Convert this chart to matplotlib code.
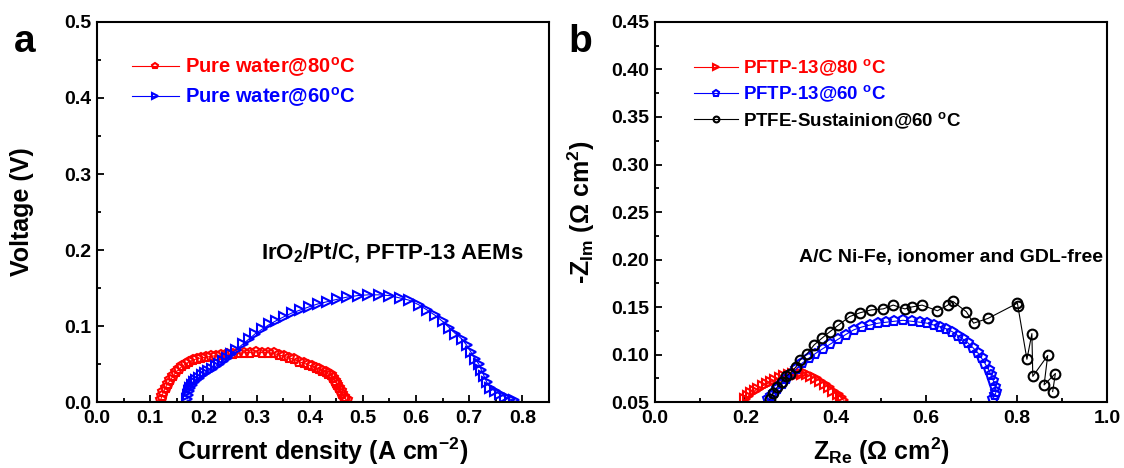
import matplotlib
matplotlib.use("Agg")
import matplotlib.pyplot as plt
from matplotlib.ticker import MultipleLocator

plt.rcParams['font.family'] = ['Liberation Sans', 'DejaVu Sans']
plt.rcParams['font.weight'] = 'bold'
plt.rcParams['axes.labelweight'] = 'bold'
plt.rcParams['mathtext.fontset'] = 'custom'
plt.rcParams['mathtext.rm'] = 'Liberation Sans:bold'
plt.rcParams['mathtext.it'] = 'Liberation Sans:bold'
plt.rcParams['mathtext.bf'] = 'Liberation Sans:bold'

# ---- panel a: polarization-like curves ----
a80_j = [0.120, 0.122, 0.125, 0.129, 0.133, 0.138, 0.143, 0.148, 0.154, 0.160,
         0.167, 0.173, 0.180, 0.188, 0.196, 0.205, 0.214, 0.224, 0.234, 0.244,
         0.255, 0.266, 0.277, 0.288, 0.299, 0.310, 0.321, 0.332, 0.342, 0.352,
         0.362, 0.371, 0.380, 0.389, 0.397, 0.405, 0.412, 0.418, 0.424, 0.430,
         0.435, 0.440, 0.444, 0.447, 0.450, 0.452, 0.455, 0.458, 0.461, 0.464,
         0.467, 0.470]
a80_v = [0.003, 0.008, 0.013, 0.019, 0.024, 0.029, 0.034, 0.039, 0.043, 0.047,
         0.050, 0.053, 0.055, 0.057, 0.058, 0.059, 0.060, 0.061, 0.062, 0.063,
         0.063, 0.064, 0.065, 0.065, 0.066, 0.065, 0.065, 0.064, 0.062, 0.060,
         0.058, 0.056, 0.053, 0.051, 0.049, 0.047, 0.045, 0.043, 0.041, 0.039,
         0.037, 0.035, 0.032, 0.028, 0.025, 0.022, 0.018, 0.014, 0.011, 0.007,
         0.004, 0.002]

a60_j = [0.170, 0.171, 0.173, 0.175, 0.178, 0.182, 0.186, 0.191, 0.197, 0.203,
         0.209, 0.216, 0.223, 0.230, 0.237, 0.244, 0.252, 0.262, 0.274, 0.286,
         0.298, 0.311, 0.324, 0.337, 0.351, 0.366, 0.382, 0.398, 0.415, 0.433,
         0.451, 0.470, 0.490, 0.510, 0.530, 0.550, 0.569, 0.587, 0.605, 0.621,
         0.636, 0.650, 0.662, 0.674, 0.686, 0.695, 0.703, 0.711, 0.718, 0.723,
         0.728, 0.733, 0.740, 0.749, 0.758, 0.767, 0.776, 0.784]
a60_v = [0.004, 0.009, 0.014, 0.018, 0.022, 0.026, 0.029, 0.032, 0.035, 0.038,
         0.041, 0.044, 0.047, 0.050, 0.054, 0.058, 0.063, 0.069, 0.076, 0.083,
         0.090, 0.096, 0.102, 0.107, 0.112, 0.117, 0.121, 0.125, 0.129, 0.132,
         0.135, 0.138, 0.140, 0.141, 0.141, 0.140, 0.137, 0.134, 0.128, 0.121,
         0.114, 0.106, 0.098, 0.090, 0.083, 0.075, 0.066, 0.057, 0.050, 0.042,
         0.034, 0.026, 0.019, 0.014, 0.010, 0.007, 0.004, 0.002]

# ---- panel b: Nyquist plots ----
b80_re = [0.200, 0.206, 0.213, 0.221, 0.229, 0.238, 0.247, 0.256, 0.266, 0.276,
          0.286, 0.296, 0.306, 0.316, 0.326, 0.336, 0.346, 0.356, 0.366, 0.376,
          0.386, 0.395, 0.404, 0.411, 0.417]
b80_im = [0.053, 0.056, 0.059, 0.062, 0.064, 0.067, 0.069, 0.071, 0.073, 0.075,
          0.077, 0.078, 0.079, 0.080, 0.080, 0.079, 0.077, 0.075, 0.072, 0.069,
          0.066, 0.062, 0.058, 0.055, 0.052]

b60_re = [0.250, 0.256, 0.263, 0.271, 0.280, 0.290, 0.301, 0.313, 0.326, 0.340,
          0.355, 0.371, 0.388, 0.405, 0.422, 0.440, 0.458, 0.476, 0.494, 0.512,
          0.530, 0.549, 0.568, 0.586, 0.602, 0.617, 0.631, 0.645, 0.658, 0.670,
          0.682, 0.693, 0.704, 0.714, 0.723, 0.731, 0.738, 0.744, 0.749, 0.753,
          0.755, 0.752, 0.747]
b60_im = [0.053, 0.056, 0.060, 0.064, 0.069, 0.074, 0.079, 0.085, 0.091, 0.096,
          0.101, 0.106, 0.111, 0.116, 0.121, 0.126, 0.129, 0.131, 0.133, 0.134,
          0.135, 0.136, 0.135, 0.134, 0.133, 0.131, 0.129, 0.127, 0.124, 0.120,
          0.116, 0.112, 0.107, 0.102, 0.096, 0.090, 0.084, 0.078, 0.072, 0.066,
          0.061, 0.057, 0.053]

sus_re = [0.254, 0.262, 0.271, 0.280, 0.290, 0.299, 0.312, 0.321, 0.337, 0.352,
          0.369, 0.387, 0.406, 0.431, 0.454, 0.479, 0.505, 0.527, 0.553, 0.568,
          0.591, 0.625, 0.648, 0.659, 0.689, 0.705, 0.737, 0.802, 0.803, 0.823,
          0.834, 0.836, 0.869, 0.861, 0.886, 0.880]
sus_im = [0.053, 0.060, 0.066, 0.071, 0.077, 0.080, 0.087, 0.094, 0.101, 0.110,
          0.117, 0.124, 0.131, 0.140, 0.144, 0.147, 0.148, 0.152, 0.148, 0.150,
          0.152, 0.146, 0.152, 0.156, 0.145, 0.133, 0.138, 0.154, 0.151, 0.095,
          0.122, 0.077, 0.099, 0.068, 0.080, 0.061]

fig = plt.figure(figsize=(11.24, 4.68), dpi=100)
ax1 = fig.add_axes([0.0863, 0.141, 0.4021, 0.812])
ax2 = fig.add_axes([0.5827, 0.141, 0.4021, 0.812])

mk = dict(mfc='none', mew=1.5, lw=0.8)
ax1.plot(a80_j, a80_v, color='red', marker='p', ms=7, label='Pure water@80$^\\mathrm{o}$C', **mk)
ax1.plot(a60_j, a60_v, color='blue', marker='>', ms=7, label='Pure water@60$^\\mathrm{o}$C', **mk)

ax2.plot(b80_re, b80_im, color='red', marker='>', ms=7, label='PFTP-13@80 $^\\mathrm{o}$C', **mk)
ax2.plot(b60_re, b60_im, color='blue', marker='p', ms=7.5, label='PFTP-13@60 $^\\mathrm{o}$C', **mk)
ax2.plot(sus_re, sus_im, color='black', marker='o', ms=7, label='PTFE-Sustainion@60 $^\\mathrm{o}$C', **mk)

ax1.set_xlim(0, 0.85)
ax1.set_ylim(0, 0.5)
ax1.xaxis.set_major_locator(MultipleLocator(0.1))
ax1.xaxis.set_minor_locator(MultipleLocator(0.05))
ax1.yaxis.set_major_locator(MultipleLocator(0.1))
ax1.yaxis.set_minor_locator(MultipleLocator(0.05))
ax1.set_xlabel('Current density (A cm$^{-2}$)', fontsize=18)
ax1.set_ylabel('Voltage (V)', fontsize=18)

ax2.set_xlim(0, 1.0)
ax2.set_ylim(0.05, 0.45)
ax2.xaxis.set_major_locator(MultipleLocator(0.2))
ax2.xaxis.set_minor_locator(MultipleLocator(0.1))
ax2.yaxis.set_major_locator(MultipleLocator(0.05))
ax2.yaxis.set_minor_locator(MultipleLocator(0.025))
ax2.set_xlabel('Z$_\\mathrm{Re}$ (\u03a9 cm$^2$)', fontsize=18)
ax2.set_ylabel('-Z$_\\mathrm{Im}$ (\u03a9 cm$^2$)', fontsize=18)

for ax in (ax1, ax2):
    for s in ax.spines.values():
        s.set_linewidth(1.5)
    ax.tick_params(which='both', direction='in', labelsize=14, width=1.3)
    ax.tick_params(which='major', length=5)
    ax.tick_params(which='minor', length=3)
    ax.tick_params(axis='x', pad=6)
    ax.tick_params(axis='y', pad=4)

ax1.yaxis.set_major_formatter(plt.FormatStrFormatter('%.1f'))
ax1.xaxis.set_major_formatter(plt.FormatStrFormatter('%.1f'))
ax2.yaxis.set_major_formatter(plt.FormatStrFormatter('%.2f'))
ax2.xaxis.set_major_formatter(plt.FormatStrFormatter('%.1f'))

ax1.yaxis.set_label_coords(-0.14, 0.5)
ax2.yaxis.set_label_coords(-0.128, 0.5)
ax1.xaxis.set_label_coords(0.5, -0.088)
ax2.xaxis.set_label_coords(0.5, -0.088)

ax1.legend(loc='upper left', bbox_to_anchor=(0.038, 0.96), frameon=False, fontsize=14.5,
           labelcolor='linecolor', handlelength=2.3, handletextpad=0.3,
           labelspacing=0.3, markerscale=0.6)
ax2.legend(loc='upper left', bbox_to_anchor=(0.05, 0.95), frameon=False, fontsize=13.5,
           labelcolor='linecolor', handlelength=2.3, handletextpad=0.3,
           labelspacing=0.3, markerscale=0.6)

ax1.text(0.556, 0.196, 'IrO$_2$/Pt/C, PFTP-13 AEMs', fontsize=16, ha='center', va='center')
ax2.text(0.655, 0.2026, 'A/C Ni-Fe, ionomer and GDL-free', fontsize=14, ha='center', va='center')

fig.text(0.022, 0.91, 'a', fontsize=28, fontweight='bold', ha='center', va='center')
fig.text(0.516, 0.91, 'b', fontsize=28, fontweight='bold', ha='center', va='center')

fig.savefig('out.png', dpi=100)
